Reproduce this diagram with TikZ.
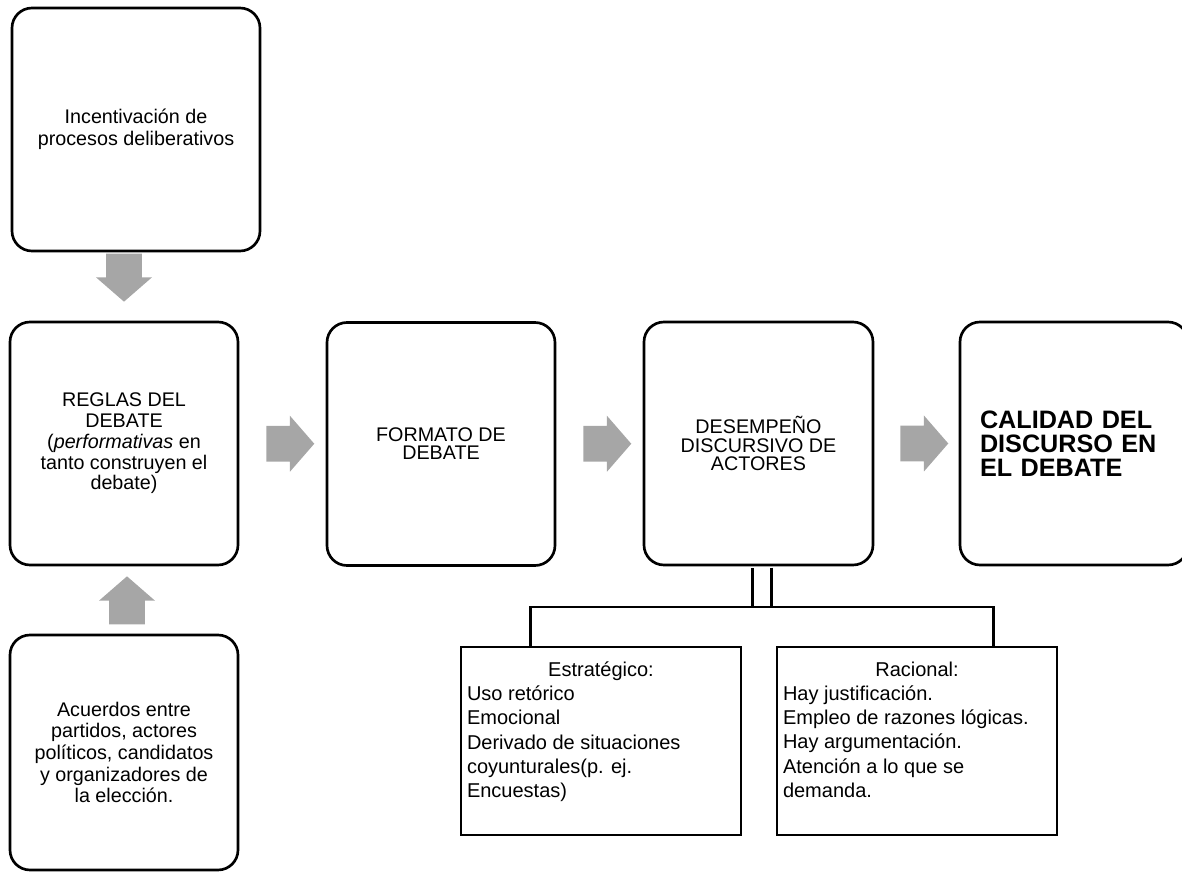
\documentclass[tikz,border=0pt]{standalone}
\usepackage{fontspec}
\setmainfont{Liberation Sans}
\usetikzlibrary{positioning,calc,shapes.arrows}
\definecolor{arrowgray}{HTML}{A6A6A6}

\begin{document}
\begin{tikzpicture}[x=0.75pt, y=-0.75pt,
    box/.style={draw, line width=2pt, rounded corners=15pt, align=center, inner sep=0pt,
        minimum width=171pt, minimum height=182.25pt},
    subbox/.style={draw, line width=2pt, inner xsep=4.5pt, inner ysep=11pt},
    blockarrow/.style={single arrow, fill=arrowgray, draw=none, minimum height=36pt,
        minimum width=42pt, single arrow head extend=7.5pt, single arrow tip angle=98,
        inner xsep=0pt, inner ysep=13pt, outer sep=0pt},
    link/.style={line width=2pt}]
    \useasboundingbox (0,0) rectangle (1182,873);

    % left column
    \node[box, minimum width=186pt, font=\fontsize{14.8pt}{16.5pt}\selectfont] (incent) at (136,129.5)
        {Incentivación de\\procesos deliberativos};
    \node[box, font=\fontsize{14.8pt}{15.6pt}\selectfont] (reglas) at (124,443.5)
        {REGLAS DEL\\DEBATE\\(\textit{performativas} en\\tanto construyen el\\debate)};
    \node[box, minimum height=176.25pt, font=\fontsize{14.8pt}{16.25pt}\selectfont] (acuerdos) at (124,752.5)
        {Acuerdos entre\\partidos, actores\\políticos, candidatos\\y organizadores de\\la elección.};
    \node[blockarrow, rotate=-90, anchor=tip] (down) at ($(reglas.north)+(0,-19)$) {};
    \node[blockarrow, rotate=90, anchor=tip] (up) at ($(reglas.south)+(3,10)$) {};

    % main row
    \node[box, font=\fontsize{14.8pt}{13.5pt}\selectfont] (formato) at (441,444)
        {FORMATO DE\\DEBATE};
    \node[box, minimum width=171.75pt, font=\fontsize{14.8pt}{13.9pt}\selectfont] (desemp) at (758.5,443.5)
        {DESEMPEÑO\\DISCURSIVO DE\\ACTORES};
    \node[box, text width=141pt, align=left, font=\bfseries\fontsize{18.9pt}{18pt}\selectfont] (calidad) at (1074,443.5)
        {CALIDAD DEL\\DISCURSO EN\\EL DEBATE};
    \node[blockarrow] (arr1) at ($(reglas.east)!.5!(formato.west)$) {};
    \node[blockarrow] (arr2) at ($(formato.east)!.5!(desemp.west)$) {};
    \node[blockarrow] (arr3) at ($(desemp.east)!.5!(calidad.west)$) {};

    % kinds of performance
    \node[subbox] (estrat) at (601,741) {\parbox[c][119pt][t]{201pt}{\fontsize{15pt}{18.2pt}\selectfont
        \centering Estratégico:\par\raggedright Uso retórico\\Emocional\\Derivado de situaciones\\coyunturales(p. ej.\\Encuestas)}};
    \node[subbox] (racional) at (917,741) {\parbox[c][119pt][t]{201pt}{\fontsize{15pt}{18.2pt}\selectfont
        \centering Racional:\par\raggedright Hay justificación.\\Empleo de razones lógicas.\\Hay argumentación.\\Atención a lo que se\\demanda.}};

    \coordinate (split) at (762,607);
    \coordinate (estrattop) at ($(estrat.north west)!.25!(estrat.north east)$);
    \coordinate (racionaltop) at ($(racional.north west)!.77!(racional.north east)$);
    \draw[link, double, double distance=12.25pt, shorten <=1pt] (desemp.south -| split) -- (split);
    \draw[link] (estrattop) -- (estrattop |- split) -- (racionaltop |- split) -- (racionaltop);
\end{tikzpicture}
\end{document}
